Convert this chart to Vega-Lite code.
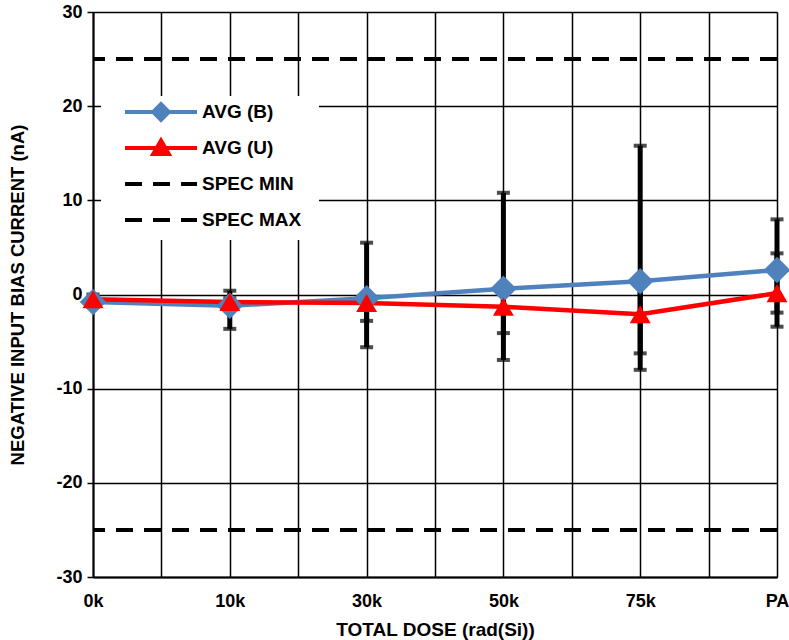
{
  "$schema": "https://vega.github.io/schema/vega-lite/v6.json",
  "width": 684,
  "height": 565,
  "autosize": "none",
  "padding": {"left": 93, "top": 12, "right": 12, "bottom": 63},
  "background": "white",
  "config": {"view": {"stroke": null}, "font": "Liberation Sans"},
  "datasets": {
    "avg": [
      {"dose": "0k", "xi": 0, "series": "AVG (B)", "value": -0.8},
      {"dose": "10k", "xi": 1, "series": "AVG (B)", "value": -1.2},
      {"dose": "30k", "xi": 2, "series": "AVG (B)", "value": -0.4},
      {"dose": "50k", "xi": 3, "series": "AVG (B)", "value": 0.6},
      {"dose": "75k", "xi": 4, "series": "AVG (B)", "value": 1.4},
      {"dose": "PA", "xi": 5, "series": "AVG (B)", "value": 2.6},
      {"dose": "0k", "xi": 0, "series": "AVG (U)", "value": -0.5},
      {"dose": "10k", "xi": 1, "series": "AVG (U)", "value": -0.8},
      {"dose": "30k", "xi": 2, "series": "AVG (U)", "value": -0.9},
      {"dose": "50k", "xi": 3, "series": "AVG (U)", "value": -1.3},
      {"dose": "75k", "xi": 4, "series": "AVG (U)", "value": -2.1},
      {"dose": "PA", "xi": 5, "series": "AVG (U)", "value": 0.15}
    ],
    "err": [
      {"dose": "0k", "xi": 0, "series": "AVG (B)", "lo": -1.3, "hi": -0.3},
      {"dose": "10k", "xi": 1, "series": "AVG (B)", "lo": -3.65, "hi": 0.4},
      {"dose": "30k", "xi": 2, "series": "AVG (B)", "lo": -2.8, "hi": 5.5},
      {"dose": "50k", "xi": 3, "series": "AVG (B)", "lo": -4.1, "hi": 10.8},
      {"dose": "75k", "xi": 4, "series": "AVG (B)", "lo": -6.25, "hi": 15.8},
      {"dose": "PA", "xi": 5, "series": "AVG (B)", "lo": -1.93, "hi": 7.98},
      {"dose": "0k", "xi": 0, "series": "AVG (U)", "lo": -1.0, "hi": 0.0},
      {"dose": "10k", "xi": 1, "series": "AVG (U)", "lo": -1.3, "hi": -0.4},
      {"dose": "30k", "xi": 2, "series": "AVG (U)", "lo": -5.6, "hi": -0.5},
      {"dose": "50k", "xi": 3, "series": "AVG (U)", "lo": -6.95, "hi": 0.2},
      {"dose": "75k", "xi": 4, "series": "AVG (U)", "lo": -8.0, "hi": 0.9},
      {"dose": "PA", "xi": 5, "series": "AVG (U)", "lo": -3.42, "hi": 4.37}
    ],
    "spec": [
      {"series": "SPEC MIN", "value": -25},
      {"series": "SPEC MAX", "value": 25}
    ]
  },
  "layer": [
    {
      "data": {"name": "spec"},
      "mark": {"type": "rule", "strokeWidth": 4, "strokeDash": [17, 11]},
      "encoding": {
        "y": {
          "field": "value", "type": "quantitative",
          "scale": {"domain": [-30, 30], "nice": false},
          "axis": {
            "values": [-30, -20, -10, 0, 10, 20, 30],
            "labelExpr": "'' + datum.value",
            "title": "NEGATIVE INPUT BIAS CURRENT (nA)",
            "titleFont": "Liberation Sans", "titleFontSize": 18.5, "titleFontWeight": "bold", "titleColor": "black",
            "titleX": -66, "titleY": 282.5,
            "labelFont": "Liberation Sans", "labelFontSize": 18, "labelFontWeight": "bold", "labelColor": "black",
            "labelPadding": 5, "tickSize": 6, "tickColor": "black", "tickWidth": 1.5,
            "domainColor": "black", "domainWidth": 2,
            "grid": true, "gridColor": "black", "gridWidth": 1.5, "gridOpacity": 1
          }
        },
        "color": {"field": "series", "type": "nominal",
          "scale": {"domain": ["AVG (B)", "AVG (U)", "SPEC MIN", "SPEC MAX"], "range": ["#4F81BD", "#FF0000", "black", "black"]}}
      }
    },
    {
      "data": {"name": "err"},
      "mark": {"type": "rule", "strokeWidth": 5, "color": "black"},
      "encoding": {
        "x": {
          "field": "xi", "type": "quantitative",
          "scale": {"domain": [0, 5], "nice": false, "zero": false},
          "axis": {
            "values": [0, 0.5, 1, 1.5, 2, 2.5, 3, 3.5, 4, 4.5, 5],
            "labelExpr": "datum.value % 1 === 0 ? ['0k','10k','30k','50k','75k','PA'][datum.value] : ''",
            "labelOverlap": false, "labelFlush": false, "labelBound": false,
            "title": "TOTAL DOSE (rad(Si))",
            "titleFont": "Liberation Sans", "titleFontSize": 19, "titleFontWeight": "bold", "titleColor": "black",
            "titleY": 43,
            "labelFont": "Liberation Sans", "labelFontSize": 18, "labelFontWeight": "bold", "labelColor": "black",
            "labelPadding": 15, "ticks": false, "tickSize": 0,
            "domainColor": "black", "domainWidth": 2,
            "grid": true, "gridColor": "black", "gridWidth": 1.5, "gridOpacity": 1
          }
        },
        "y": {"field": "lo", "type": "quantitative"},
        "y2": {"field": "hi"}
      }
    },
    {
      "data": {"name": "err"},
      "mark": {"type": "tick", "orient": "horizontal", "size": 13, "thickness": 4, "color": "black"},
      "encoding": {
        "x": {"field": "xi", "type": "quantitative"},
        "y": {"field": "lo", "type": "quantitative"}
      }
    },
    {
      "data": {"name": "err"},
      "mark": {"type": "tick", "orient": "horizontal", "size": 13, "thickness": 4, "color": "black"},
      "encoding": {
        "x": {"field": "xi", "type": "quantitative"},
        "y": {"field": "hi", "type": "quantitative"}
      }
    },
    {
      "data": {"name": "avg"},
      "mark": {"type": "line", "strokeWidth": 4.5},
      "encoding": {
        "x": {"field": "xi", "type": "quantitative"},
        "y": {"field": "value", "type": "quantitative"},
        "color": {"field": "series", "type": "nominal",
          "legend": {
            "orient": "none", "legendX": 8, "legendY": 84,
            "title": null, "fillColor": "white", "padding": 2,
            "labelFont": "Liberation Sans", "labelFontWeight": "bold", "labelFontSize": 19, "labelColor": "black",
            "symbolSize": 576, "symbolStrokeWidth": 4, "symbolOffset": 20, "labelOffset": 51, "rowPadding": 0,
            "encode": {
              "symbols": {
                "update": {
                  "shape": {"signal": "datum.value === 'AVG (B)' ? 'M-1,0L5,0M1.35,0L2,-0.66L2.65,0L2,0.66ZM2,-0.78M2,0.78M14.3,0' : datum.value === 'AVG (U)' ? 'M-1,0L5,0M2,-0.62L2.65,0.5L1.35,0.5ZM2,-0.78M2,0.78M14.3,0' : 'M-1,0L5,0M2,-0.78M2,0.78M14.3,0'"},
                  "strokeDash": {"signal": "indexof(datum.value, 'SPEC') >= 0 ? [17, 11] : []"},
                  "fill": {"signal": "scale('color', datum.value)"},
                  "stroke": {"signal": "scale('color', datum.value)"},
                  "opacity": {"value": 1}
                }
              }
            }
          }
        }
      }
    },
    {
      "data": {"name": "avg"},
      "mark": {"type": "point", "filled": true, "opacity": 1},
      "encoding": {
        "x": {"field": "xi", "type": "quantitative"},
        "y": {"field": "value", "type": "quantitative"},
        "color": {"field": "series", "type": "nominal"},
        "shape": {"field": "series", "type": "nominal",
          "scale": {"domain": ["AVG (B)", "AVG (U)"], "range": ["diamond", "triangle-up"]}, "legend": null},
        "size": {"field": "series", "type": "nominal",
          "scale": {"domain": ["AVG (B)", "AVG (U)"], "range": [700, 440]}, "legend": null}
      }
    }
  ]
}
